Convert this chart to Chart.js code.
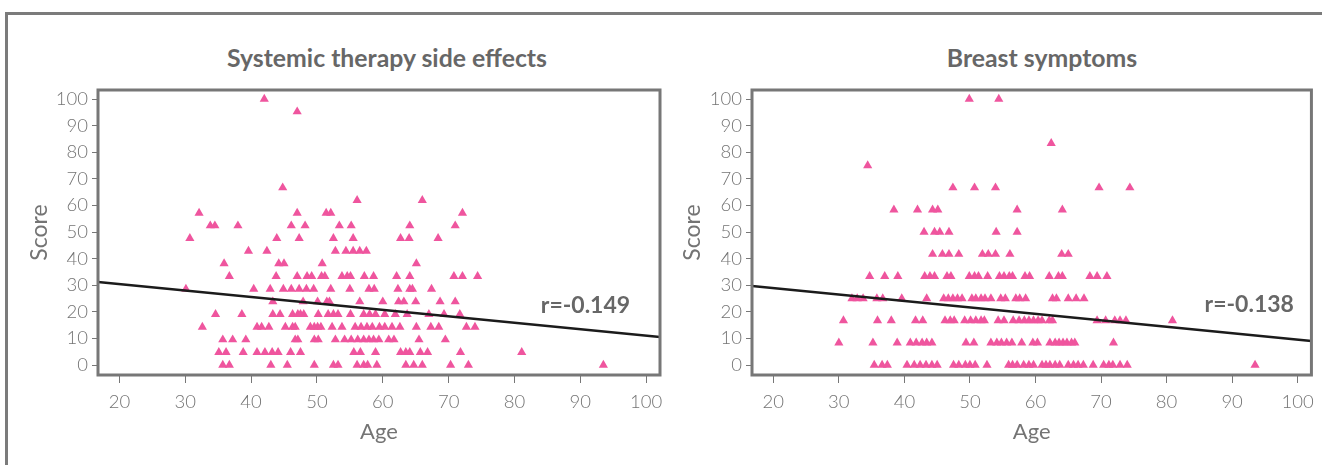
<!DOCTYPE html>
<html>
<head>
<meta charset="utf-8">
<title>Age vs score</title>
<script src="https://cdn.jsdelivr.net/npm/chart.js@4.4.1/dist/chart.umd.min.js"></script>
<style>
    html, body { margin: 0; padding: 0; background: #fff; }
    body { width: 1322px; height: 465px; position: relative; overflow: hidden; }
    .frame { position: absolute; left: 5px; top: 12px; right: -5px; bottom: -5px;
             border-top: 3px solid #7b7b7b; border-left: 3px solid #7b7b7b; }
    .panel-title { position: absolute; top: 43px; line-height: 28px; white-space: nowrap;
                   transform: translateX(-50%); font: bold 24.8px Lato, sans-serif; color: #676767; }
    .panel { position: absolute; top: 0; }
</style>
</head>
<body>
<div class="frame"></div>
<div class="panel-title" style="left:387px">Systemic therapy side effects</div>
<div class="panel-title" style="left:1042px">Breast symptoms</div>
<div class="panel" style="left:0px"><canvas id="systemicChart" width="680" height="465"></canvas></div>
<div class="panel" style="left:660px"><canvas id="breastChart" width="662" height="465"></canvas></div>

<script>
// ===== DATA =====

const AGE_TICKS = [20, 30, 40, 50, 60, 70, 80, 90, 100];
const SCORE_TICKS = [0, 10, 20, 30, 40, 50, 60, 70, 80, 90, 100];

// Systemic therapy side effects: score levels and the ages seen on each level
const systemicLevels = [100, 95.24, 66.67, 61.9, 57.14, 52.38, 47.62, 42.86, 38.1, 33.33, 28.57, 23.81, 19.05, 14.29, 9.52, 4.76, 0];
const systemicAges = [
    [42.0],
    [47.0],
    [44.8],
    [56.1, 66.0],
    [32.1, 47.0, 51.4, 52.1, 72.1],
    [33.8, 34.5, 38.0, 46.1, 48.2, 53.4, 55.2, 64.1, 71.0],
    [30.7, 43.9, 47.3, 52.5, 55.5, 62.7, 64.0, 68.4],
    [39.6, 42.4, 52.8, 54.4, 55.5, 56.5, 57.5],
    [35.9, 44.2, 45.0, 50.8, 65.1],
    [36.7, 43.8, 47.0, 48.5, 49.2, 50.7, 51.2, 53.8, 54.6, 55.1, 57.2, 58.6, 62.1, 64.1, 70.8, 72.1, 74.4],
    [30.1, 40.4, 42.9, 44.9, 46.1, 47.3, 48.4, 49.5, 52.1, 55.0, 57.9, 58.7, 62.3, 64.1, 64.5, 67.4],
    [43.3, 47.9, 50.1, 51.5, 51.9, 56.5, 60.0, 62.4, 63.2, 65.0, 68.7, 71.0],
    [34.6, 38.6, 43.3, 44.4, 46.3, 47.1, 47.5, 48.0, 50.2, 51.7, 52.5, 53.2, 55.1, 57.1, 58.0, 58.9, 60.3, 61.9, 63.7, 67.0, 69.3, 71.7],
    [32.6, 40.9, 41.6, 42.7, 45.2, 46.3, 46.7, 49.0, 49.6, 50.1, 50.6, 52.3, 53.8, 55.8, 56.7, 57.6, 58.4, 59.5, 60.3, 61.4, 62.6, 65.1, 67.3, 68.5, 72.7, 74.0],
    [35.7, 37.2, 39.2, 46.7, 47.1, 49.6, 50.2, 52.8, 54.2, 55.2, 56.2, 57.1, 57.9, 58.6, 59.4, 60.9, 61.7, 65.5, 69.5],
    [35.1, 36.2, 38.8, 40.9, 42.1, 43.2, 44.1, 46.0, 47.5, 55.6, 56.6, 58.9, 62.7, 63.5, 64.1, 65.7, 66.8, 71.8, 81.1],
    [35.7, 36.7, 43.0, 45.5, 49.6, 52.5, 53.2, 56.1, 57.1, 57.7, 59.1, 63.5, 64.7, 66.0, 70.3, 73.0, 93.5]
];
const systemicFit = { intercept: 35.25, slope: -0.242 };
const systemicR = 'r=-0.149';

// Breast symptoms
const breastLevels = [100, 83.33, 75, 66.67, 58.33, 50, 41.67, 33.33, 25, 16.67, 8.33, 0];
const breastAges = [
    [49.9, 54.4],
    [62.4],
    [34.4],
    [47.4, 50.7, 53.9, 69.7, 74.4],
    [38.4, 42.0, 44.3, 45.1, 57.2, 64.1],
    [43.0, 44.6, 45.4, 46.8, 54.0, 57.2],
    [44.3, 45.8, 46.8, 48.3, 51.9, 52.8, 53.9, 56.1, 64.0, 65.0],
    [34.7, 37.0, 39.0, 43.1, 43.9, 44.6, 46.5, 47.1, 49.9, 50.7, 51.3, 52.7, 54.5, 55.2, 56.0, 56.5, 58.4, 59.1, 62.1, 63.5, 64.1, 68.3, 69.4, 70.9],
    [32.0, 32.8, 33.7, 35.8, 36.7, 39.6, 43.4, 46.0, 46.7, 47.4, 48.1, 48.8, 50.3, 50.9, 51.7, 52.3, 53.2, 54.7, 55.4, 57.0, 57.6, 58.5, 62.6, 63.2, 65.0, 66.2, 67.4],
    [30.7, 35.9, 38.0, 41.7, 42.8, 46.2, 47.0, 47.6, 49.2, 50.1, 50.9, 51.7, 52.2, 54.3, 55.2, 56.6, 57.5, 58.3, 59.0, 59.7, 60.4, 61.0, 62.1, 62.6, 69.4, 70.7, 72.1, 72.9, 73.8, 80.9],
    [30.0, 35.2, 38.9, 40.9, 41.8, 42.7, 43.4, 44.2, 49.4, 50.6, 53.2, 54.1, 54.8, 55.6, 56.4, 57.9, 59.6, 60.3, 62.2, 63.0, 63.6, 64.2, 64.8, 65.5, 66.0, 71.9],
    [35.4, 36.6, 37.4, 40.4, 41.5, 42.4, 43.3, 44.2, 45.0, 47.5, 48.3, 49.3, 50.0, 50.8, 52.6, 55.9, 56.5, 57.2, 58.2, 59.0, 59.7, 61.0, 61.6, 62.2, 63.0, 63.7, 65.0, 65.8, 66.5, 67.3, 68.8, 70.4, 71.2, 71.8, 72.9, 74.0, 93.5]
];
const breastFit = { intercept: 33.8, slope: -0.243 };
const breastR = 'r=-0.138';

// ===== STYLE =====
const X_MIN = 16.75, X_MAX = 102.1;
const Y_MIN = -3.76, Y_MAX = 103.4;
const GREY = '#747474';
const PINK = '#EF559E';
const TICK_FONT = { family: 'Lato, sans-serif', size: 18.5, weight: 300 };

// levels + ages -> {x, y}
function toPoints(levels, agesByLevel) {
    const pts = [];
    levels.forEach((score, i) => {
        agesByLevel[i].forEach(age => pts.push({ x: age, y: score }));
    });
    return pts;
}

// frame round the plot area
const boxBorder = {
    id: 'boxBorder',
    afterDatasetsDraw(chart) {
        const { ctx, chartArea: a } = chart;
        ctx.save();
        ctx.strokeStyle = '#777';
        ctx.lineWidth = 3;
        ctx.strokeRect(a.left, a.top, a.right - a.left, a.bottom - a.top);
        ctx.restore();
    }
};

// r= label placed in data units
const rLabel = {
    id: 'rLabel',
    afterDraw(chart, args, opts) {
        const { ctx, scales } = chart;
        ctx.save();
        ctx.font = 'bold 23px Lato, sans-serif';
        ctx.fillStyle = '#676767';
        ctx.textAlign = 'left';
        ctx.textBaseline = 'middle';
        ctx.fillText(opts.text, scales.x.getPixelForValue(opts.age), scales.y.getPixelForValue(opts.score));
        ctx.restore();
    }
};

function makePanel(canvasId, levels, ages, fit, rText, rPos, box) {
    const ctx = document.getElementById(canvasId).getContext('2d');
    new Chart(ctx, {
        data: {
            datasets: [
                {
                    type: 'line',
                    data: [
                        { x: X_MIN, y: fit.intercept + fit.slope * X_MIN },
                        { x: X_MAX, y: fit.intercept + fit.slope * X_MAX }
                    ],
                    borderColor: '#1b1b1b',
                    borderWidth: 2.5,
                    pointRadius: 0,
                    order: 0
                },
                {
                    type: 'scatter',
                    data: toPoints(levels, ages),
                    pointStyle: 'triangle',
                    radius: 5.3,
                    backgroundColor: PINK,
                    borderWidth: 0,
                    order: 1
                }
            ]
        },
        options: {
            responsive: false,
            animation: false,
            events: [],
            layout: { padding: { left: 0, right: box.padRight, top: 90, bottom: 0 } },
            plugins: {
                legend: { display: false },
                tooltip: { enabled: false },
                rLabel: { text: rText, age: rPos.age, score: rPos.score }
            },
            scales: {
                x: {
                    type: 'linear',
                    min: X_MIN,
                    max: X_MAX,
                    afterBuildTicks: s => { s.ticks = AGE_TICKS.map(v => ({ value: v })); },
                    afterFit: s => { s.height = 90; },
                    grid: { drawOnChartArea: false, drawTicks: true, tickLength: 8, tickColor: '#777', tickWidth: 1 },
                    border: { display: false },
                    ticks: { color: GREY, font: TICK_FONT, padding: 8, maxRotation: 0, autoSkip: false },
                    title: { display: true, text: 'Age', color: GREY, font: { family: 'Lato, sans-serif', size: 22 }, padding: { top: 0, bottom: 20 } }
                },
                y: {
                    type: 'linear',
                    min: Y_MIN,
                    max: Y_MAX,
                    afterBuildTicks: s => { s.ticks = SCORE_TICKS.map(v => ({ value: v })); },
                    afterFit: s => { s.width = box.yWidth; },
                    grid: { drawOnChartArea: false, drawTicks: true, tickLength: 6, tickColor: '#777', tickWidth: 1 },
                    border: { display: false },
                    ticks: { color: GREY, font: TICK_FONT, padding: 4, autoSkip: false },
                    title: { display: true, text: 'Score', color: GREY, font: { family: 'Lato, sans-serif', size: 23 }, padding: { top: box.titlePad, bottom: 0 } }
                }
            }
        },
        plugins: [boxBorder, rLabel]
    });
}

// ===== START =====
makePanel('systemicChart', systemicLevels, systemicAges, systemicFit, systemicR,
    { age: 84.0, score: 22.2 }, { padRight: 20, yWidth: 98, titlePad: 26 });
makePanel('breastChart', breastLevels, breastAges, breastFit, breastR,
    { age: 85.8, score: 22.6 }, { padRight: 10, yWidth: 92, titlePad: 19 });
</script>
</body>
</html>
